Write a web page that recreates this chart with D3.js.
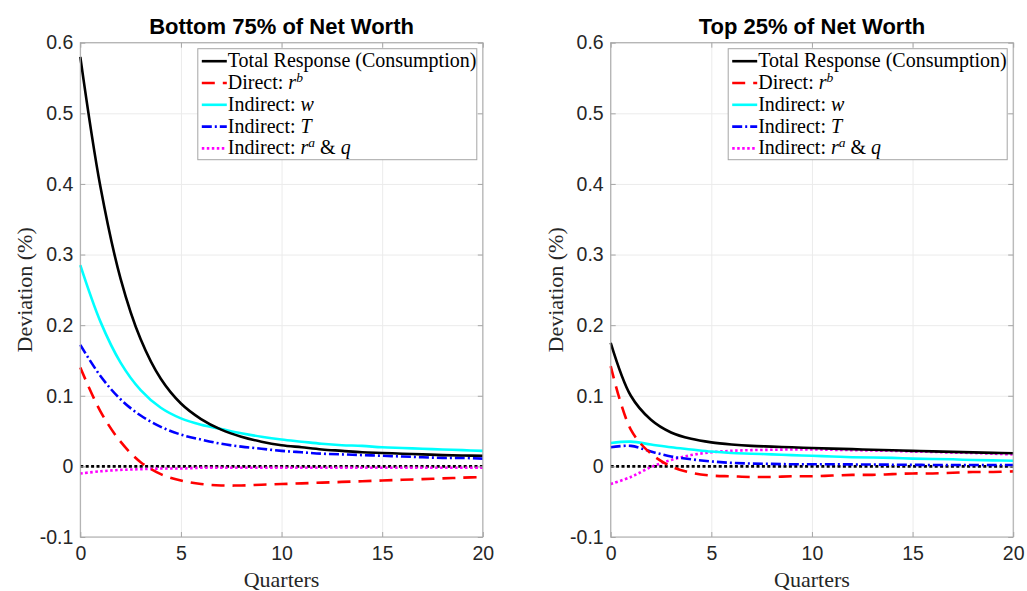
<!DOCTYPE html>
<meta charset="utf-8">
<script src="https://d3js.org/d3.v7.min.js"></script>
<style>
  body { margin: 0; background: #fff; }
  svg { display: block; }
</style>
<div id="chart"></div>
<script>
  // quarters after the shock
  var quarters = [0, 1, 2, 3, 4, 5, 6, 7, 8, 9, 10, 11, 12, 13, 14, 15, 16, 17, 18, 19, 20];

  // bottom 75% of net worth
  var botTotal    = [0.580, 0.396, 0.266, 0.180, 0.124, 0.089, 0.067, 0.052, 0.042, 0.035, 0.030, 0.027, 0.024, 0.022, 0.020, 0.019, 0.018, 0.017, 0.016, 0.0155, 0.015];
  var botDirect   = [0.140, 0.078, 0.035, 0.006, -0.011, -0.020, -0.025, -0.027, -0.027, -0.026, -0.025, -0.024, -0.023, -0.022, -0.021, -0.020, -0.019, -0.018, -0.017, -0.016, -0.015];
  var botWage     = [0.285, 0.205, 0.147, 0.108, 0.083, 0.068, 0.059, 0.053, 0.047, 0.042, 0.038, 0.035, 0.032, 0.030, 0.029, 0.027, 0.026, 0.025, 0.024, 0.023, 0.022];
  var botTax      = [0.172, 0.128, 0.095, 0.072, 0.056, 0.045, 0.038, 0.032, 0.028, 0.025, 0.022, 0.020, 0.018, 0.017, 0.016, 0.015, 0.014, 0.013, 0.012, 0.012, 0.011];
  var botIlliquid = [-0.010, -0.007, -0.005, -0.004, -0.003, -0.003, -0.002, -0.002, -0.002, -0.002, -0.002, -0.002, -0.002, -0.002, -0.002, -0.002, -0.002, -0.002, -0.002, -0.002, -0.002];

  // top 25% of net worth
  var topTotal    = [0.175, 0.100, 0.066, 0.048, 0.039, 0.034, 0.031, 0.029, 0.028, 0.027, 0.026, 0.0252, 0.0244, 0.0236, 0.0228, 0.022, 0.0213, 0.0206, 0.0199, 0.0192, 0.0185];
  var topDirect   = [0.142, 0.052, 0.018, 0.000, -0.009, -0.013, -0.014, -0.015, -0.015, -0.014, -0.014, -0.013, -0.012, -0.012, -0.011, -0.010, -0.010, -0.009, -0.008, -0.008, -0.007];
  var topWage     = [0.033, 0.035, 0.031, 0.027, 0.024, 0.021, 0.019, 0.018, 0.017, 0.016, 0.015, 0.014, 0.013, 0.0125, 0.012, 0.011, 0.0105, 0.010, 0.009, 0.0085, 0.008];
  var topTax      = [0.027, 0.029, 0.021, 0.014, 0.010, 0.007, 0.005, 0.004, 0.0035, 0.003, 0.003, 0.003, 0.0028, 0.0026, 0.0024, 0.0022, 0.002, 0.002, 0.002, 0.002, 0.002];
  var topIlliquid = [-0.025, -0.015, -0.001, 0.009, 0.016, 0.020, 0.022, 0.023, 0.0235, 0.024, 0.024, 0.0235, 0.023, 0.0225, 0.022, 0.021, 0.0205, 0.0195, 0.019, 0.018, 0.017];

  var xTicks = [0, 5, 10, 15, 20];
  var yTicks = [-0.1, 0, 0.1, 0.2, 0.3, 0.4, 0.5, 0.6];
  var titles = ["Bottom 75% of Net Worth", "Top 25% of Net Worth"];

  // legend text, pieces marked i are math italic, s are superscripts
  var legendLabels = [
    [["Total Response (Consumption)"]],
    [["Direct: "], ["r", "i"], ["b", "s"]],
    [["Indirect: "], ["w", "i"]],
    [["Indirect: "], ["T", "i"]],
    [["Indirect: "], ["r", "i"], ["a", "s"], [" & "], ["q", "i"]]
  ];

  // line styles, one per series
  var styles = [
    { color: "#000000", dash: null },
    { color: "#ff0000", dash: "13,8" },
    { color: "#00ffff", dash: null },
    { color: "#0000ff", dash: "10,3,2,3" },
    { color: "#ff00ff", dash: "2.5,2.5" }
  ];

  var panels = [
    { left: 80.3, series: [botTotal, botDirect, botWage, botTax, botIlliquid] },
    { left: 610.7, series: [topTotal, topDirect, topWage, topTax, topIlliquid] }
  ];

  var W = 1027, H = 591;
  var plotW = 402.5, plotTop = 42.7, plotH = 494.3;
  var sans = "'Liberation Sans', Arial, sans-serif";
  var serif = "'Liberation Serif', 'Times New Roman', serif";

  var svg = d3.select("#chart").append("svg")
    .attr("width", W)
    .attr("height", H);

  function styleGrid(a) {
    a.select(".domain").remove();
    a.selectAll("line").attr("stroke", "#ebebeb");
  }
  function styleTicks(a) {
    a.select(".domain").remove();
    a.selectAll("line").attr("stroke", "#a6a6a6");
  }

  panels.forEach(function (p, k) {
    var g = svg.append("g").attr("transform", "translate(" + p.left + "," + plotTop + ")");

    var x = d3.scaleLinear().domain([0, 20]).range([0, plotW]);
    var y = d3.scaleLinear().domain([-0.1, 0.6]).range([plotH, 0]);

    // grid
    g.append("g")
      .attr("transform", "translate(0," + plotH + ")")
      .call(d3.axisBottom(x).tickValues(xTicks).tickSize(-plotH).tickFormat(""))
      .call(styleGrid);
    g.append("g")
      .call(d3.axisLeft(y).tickValues(yTicks).tickSize(-plotW).tickFormat(""))
      .call(styleGrid);

    // zero reference line
    g.append("line")
      .attr("x1", x(0)).attr("x2", x(20))
      .attr("y1", y(0)).attr("y2", y(0))
      .attr("stroke", "#000")
      .attr("stroke-width", 2.6)
      .attr("stroke-dasharray", "3,2.4");

    // series
    var line = d3.line()
      .x(function (d, i) { return x(quarters[i]); })
      .y(function (d) { return y(d); })
      .curve(d3.curveCatmullRom.alpha(0.5));

    // draw in reverse order so Total sits on top
    [4, 3, 2, 1, 0].forEach(function (s) {
      g.append("path")
        .datum(p.series[s])
        .attr("fill", "none")
        .attr("stroke", styles[s].color)
        .attr("stroke-width", 2.6)
        .attr("stroke-dasharray", styles[s].dash)
        .attr("d", line);
    });

    // axes with inward ticks
    var xa = g.append("g")
      .attr("transform", "translate(0," + plotH + ")")
      .call(d3.axisBottom(x).tickValues(xTicks).tickSizeInner(-5).tickSizeOuter(0).tickPadding(9))
      .call(styleTicks);
    var ya = g.append("g")
      .call(d3.axisLeft(y).tickValues(yTicks).tickSizeInner(-5).tickSizeOuter(0).tickPadding(7)
        .tickFormat(function (d) { return String(Math.round(d * 10) / 10); }))
      .call(styleTicks);
    [xa, ya].forEach(function (a) {
      a.selectAll("text")
        .attr("fill", "#262626")
        .style("font-family", sans)
        .style("font-size", "19.5px");
    });
    // mirrored ticks on top and right
    g.append("g")
      .call(d3.axisTop(x).tickValues(xTicks).tickSizeInner(-5).tickSizeOuter(0).tickFormat(""))
      .call(styleTicks);
    g.append("g").attr("transform", "translate(" + plotW + ",0)")
      .call(d3.axisRight(y).tickValues(yTicks).tickSizeInner(-5).tickSizeOuter(0).tickFormat(""))
      .call(styleTicks);

    // box
    g.append("rect")
      .attr("width", plotW).attr("height", plotH)
      .attr("fill", "none")
      .attr("stroke", "#a6a6a6")
      .attr("stroke-width", 1);

    // title
    g.append("text")
      .attr("x", plotW / 2).attr("y", -9)
      .attr("text-anchor", "middle")
      .style("font-family", sans)
      .style("font-weight", "bold")
      .style("font-size", "22px")
      .text(titles[k]);

    // axis labels
    g.append("text")
      .attr("x", plotW / 2).attr("y", plotH + 50)
      .attr("text-anchor", "middle")
      .attr("fill", "#262626")
      .style("font-family", serif)
      .style("font-size", "22px")
      .text("Quarters");
    g.append("text")
      .attr("transform", "translate(-48," + plotH / 2 + ") rotate(-90)")
      .attr("text-anchor", "middle")
      .attr("fill", "#262626")
      .style("font-family", serif)
      .style("font-size", "22px")
      .text("Deviation (%)");

    // legend
    var lg = g.append("g").attr("transform", "translate(" + (plotW - 285) + ",6)");
    lg.append("rect")
      .attr("width", 279).attr("height", 111)
      .attr("fill", "#fff")
      .attr("stroke", "#a6a6a6")
      .attr("stroke-width", 1);
    legendLabels.forEach(function (parts, i) {
      var cy = 12.5 + i * 21.8;
      lg.append("line")
        .attr("x1", 4).attr("x2", 29)
        .attr("y1", cy).attr("y2", cy)
        .attr("stroke", styles[i].color)
        .attr("stroke-width", 2.6)
        .attr("stroke-dasharray", styles[i].dash);
      var t = lg.append("text")
        .attr("x", 30).attr("y", cy + 6)
        .style("font-family", serif)
        .style("font-size", "20px");
      var raised = false;
      parts.forEach(function (pt) {
        var ts = t.append("tspan").text(pt[0]);
        if (pt[1] === "s") {
          ts.style("font-style", "italic").style("font-size", "13.5px").attr("dy", -7);
          raised = true;
        } else {
          if (pt[1] === "i") ts.style("font-style", "italic");
          if (raised) { ts.attr("dy", 7); raised = false; }
        }
      });
    });
  });
</script>
